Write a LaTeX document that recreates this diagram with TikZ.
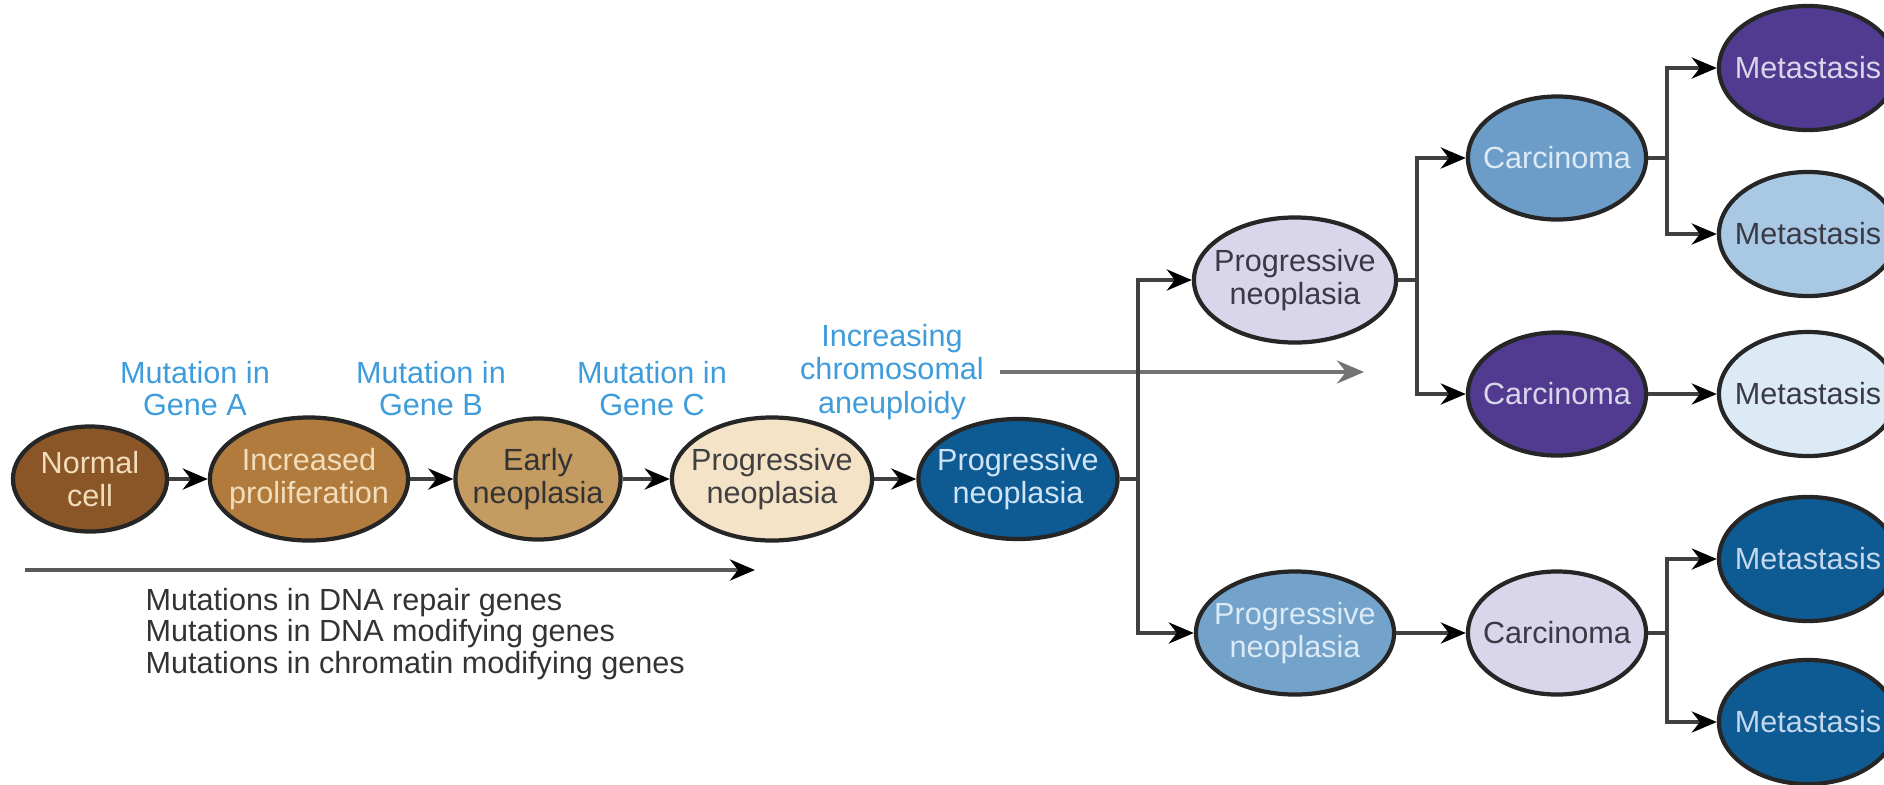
\documentclass[tikz,border=0pt]{standalone}
\usepackage{fontspec}
\setmainfont{Liberation Sans}
\usetikzlibrary{shapes.geometric,arrows.meta}

\definecolor{brownD}{HTML}{8A5527}
\definecolor{brownM}{HTML}{B27B3E}
\definecolor{tanM}{HTML}{C49B60}
\definecolor{cream}{HTML}{F4E3C7}
\definecolor{navy}{HTML}{0E5A93}
\definecolor{lavender}{HTML}{D9D5EB}
\definecolor{steel}{HTML}{6C9DC8}
\definecolor{purpleD}{HTML}{503B90}
\definecolor{sky}{HTML}{A9C8E4}
\definecolor{pale}{HTML}{DCEAF6}
\definecolor{labelblue}{HTML}{3F9CDB}
\definecolor{lighttxt}{HTML}{F2DDBB}
\definecolor{bluetxt}{HTML}{CFE4F6}
\definecolor{darktxt}{HTML}{3A3A46}

\begin{document}
\begin{tikzpicture}[
  x=0.01cm, y=-0.01cm,
  every node/.style={inner sep=0pt, align=center, font=\fontsize{8.7}{9.4}\selectfont},
  cell/.style 2 args={ellipse, draw=black!85, line width=1.2pt, fill=#1, text=#2,
    minimum width=1.78cm, minimum height=1.23cm, inner xsep=-3mm, inner ysep=-1mm},
  conn/.style={draw=black!75, line width=1.1pt},
  arr/.style={conn, -{Stealth[length=2.5mm, width=2.1mm, inset=0.8mm, color=black]}},
  gene/.style={text=labelblue, font=\fontsize{8.7}{9.1}\selectfont}
]
\useasboundingbox (0,0) rectangle (1884,784);

% main chain
\node[cell={brownD}{lighttxt}, minimum width=1.54cm, minimum height=1.05cm] (normal) at (90,479) {Normal\\cell};
\node[cell={brownM}{lighttxt}, minimum width=1.98cm] (prolif) at (309,479) {Increased\\proliferation};
\node[cell={tanM}{black!80}, minimum width=1.65cm, minimum height=1.21cm] (early) at (538,479) {Early\\neoplasia};
\node[cell={cream}{black!75}, minimum width=2.0cm] (progA) at (772,479) {Progressive\\neoplasia};
\node[cell={navy}{bluetxt}, minimum width=1.99cm, minimum height=1.2cm] (progB) at (1018,479) {Progressive\\neoplasia};

\draw[arr] (normal) -- (prolif);
\draw[arr] (prolif) -- (early);
\draw[arr] (early) -- (progA);
\draw[arr] (progA) -- (progB);

% labels above
\node[gene] (geneA) at (195,389) {Mutation in\\Gene A};
\node[gene] (geneB) at (431,389) {Mutation in\\Gene B};
\node[gene] (geneC) at (652,389) {Mutation in\\Gene C};
\node[gene, font=\fontsize{8.7}{9.5}\selectfont, inner xsep=1.5mm] (aneu) at (892,372) {Increasing\\chromosomal\\aneuploidy};
\coordinate (aneuEnd) at (1364,372);
\draw[draw=black!55, line width=1pt, -{Stealth[length=2.7mm, width=2.3mm, inset=0.9mm]}] (aneu.east) -- (aneuEnd);

% bottom arrow and text
\coordinate (dnaStart) at (25,570);
\coordinate (dnaEnd) at (755,570);
\draw[conn, draw=black!65, line width=1.3pt, -{Stealth[length=2.5mm, width=2.1mm, inset=0.8mm, color=black]}] (dnaStart) -- (dnaEnd);
\node[anchor=west, align=left, text=black!80, font=\fontsize{8.7}{8.95}\selectfont] (dna) at (145,634)
  {Mutations in DNA repair genes\\Mutations in DNA modifying genes\\Mutations in chromatin modifying genes};

% first split
\node[cell={lavender}{darktxt}, minimum width=2.02cm, minimum height=1.25cm] (progUp) at (1295,280) {Progressive\\neoplasia};
\node[cell={steel!95!white}{pale}, minimum width=1.98cm] (progLow) at (1295,633) {Progressive\\neoplasia};
\coordinate (splitA) at (1138,479);
\draw[conn] (progB) -- (splitA);
\draw[arr] (splitA) |- (progUp);
\draw[arr] (splitA) |- (progLow);

% carcinomas
\node[cell={steel}{pale}] (carcA) at (1557,158) {Carcinoma};
\node[cell={purpleD}{lavender}] (carcB) at (1557,394) {Carcinoma};
\node[cell={lavender}{darktxt}] (carcC) at (1557,633) {Carcinoma};
\coordinate (splitB) at (1417,280);
\draw[conn] (progUp) -- (splitB);
\draw[arr] (splitB) |- (carcA);
\draw[arr] (splitB) |- (carcB);
\draw[arr] (progLow) -- (carcC);

% metastases
\node[cell={purpleD}{lavender}, minimum height=1.24cm] (metA) at (1808,68) {Metastasis};
\node[cell={sky}{darktxt}, minimum height=1.24cm] (metB) at (1808,234) {Metastasis};
\node[cell={pale}{darktxt}, minimum height=1.24cm] (metC) at (1808,394) {Metastasis};
\node[cell={navy}{sky!70!white}, minimum height=1.24cm] (metD) at (1808,559) {Metastasis};
\node[cell={navy}{sky!70!white}, minimum height=1.24cm] (metE) at (1808,722) {Metastasis};
\coordinate (splitC) at (1667,158);
\coordinate (splitD) at (1667,633);
\draw[conn] (carcA) -- (splitC);
\draw[arr] (splitC) |- (metA);
\draw[arr] (splitC) |- (metB);
\draw[arr] (carcB) -- (metC);
\draw[conn] (carcC) -- (splitD);
\draw[arr] (splitD) |- (metD);
\draw[arr] (splitD) |- (metE);
\end{tikzpicture}
\end{document}
